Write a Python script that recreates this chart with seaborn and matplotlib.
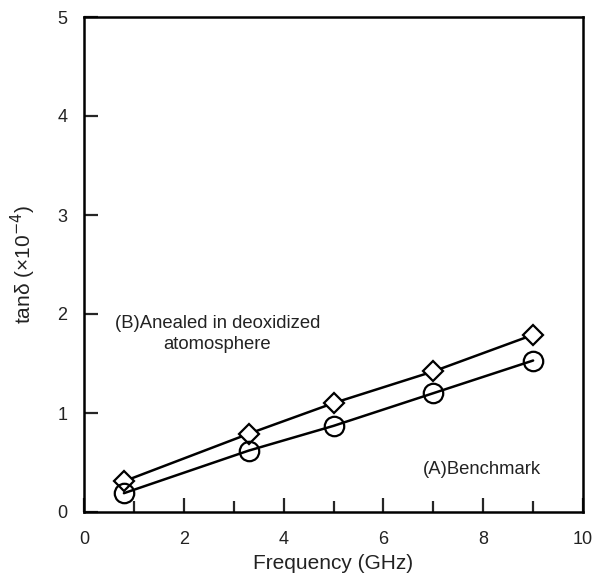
import matplotlib
matplotlib.use("Agg")
import matplotlib.pyplot as plt
from matplotlib.ticker import MultipleLocator
import seaborn as sns
import pandas as pd

freq = [0.8, 3.3, 5.0, 7.0, 9.0]
tan_b = [0.31, 0.79, 1.10, 1.42, 1.79]   # (B) annealed, diamonds
tan_a = [0.19, 0.62, 0.87, 1.20, 1.53]   # (A) benchmark, circles
x_ticks = [0, 2, 4, 6, 8, 10]
y_ticks = [0, 1, 2, 3, 4, 5]

sns.set_theme(style="ticks")
plt.rcParams['font.family'] = ['Liberation Sans', 'DejaVu Sans']

df = pd.DataFrame({
    "freq": freq * 2,
    "tan": tan_b + tan_a,
    "series": ["B"] * len(freq) + ["A"] * len(freq),
})

fig = plt.figure(figsize=(5.92, 5.76), dpi=100)
ax = fig.add_axes([84 / 592, 1 - 512 / 576, (583 - 84) / 592, (512 - 17) / 576])

sns.lineplot(data=df[df.series == "B"], x="freq", y="tan", ax=ax, color="black",
             lw=1.8, marker="D", markersize=10, markerfacecolor="white",
             markeredgecolor="black", markeredgewidth=1.6, zorder=3)
sns.lineplot(data=df[df.series == "A"], x="freq", y="tan", ax=ax, color="black",
             lw=1.8, marker="o", markersize=14, markerfacecolor="none",
             markeredgecolor="black", markeredgewidth=1.6, zorder=3)

ax.set_xlim(0, 10)
ax.set_ylim(0, 5)
ax.set_xticks(x_ticks)
ax.set_yticks(y_ticks)
ax.xaxis.set_minor_locator(MultipleLocator(1))
ax.tick_params(axis="both", which="major", direction="in", length=10, width=1.6,
               labelsize=13, labelcolor="#222222")
ax.tick_params(axis="x", which="major", pad=14)
ax.tick_params(axis="y", which="major", pad=12)
ax.tick_params(axis="x", which="minor", direction="in", length=8, width=1.6)
ax.tick_params(top=False, right=False)
for s in ax.spines.values():
    s.set_visible(True)
    s.set_linewidth(1.8)
    s.set_color("black")

ax.set_xlabel("Frequency (GHz)", fontsize=15, color="#222222", labelpad=4)
ax.set_ylabel(r"tanδ (×10$^{-4}$)", fontsize=15, color="#222222", labelpad=14)

ax.text(2.67, 1.80, "(B)Anealed in deoxidized\natomosphere", ha="center", va="center",
        fontsize=13.3, color="#222222", linespacing=1.3)
ax.text(7.98, 0.43, "(A)Benchmark", ha="center", va="center", fontsize=13.3, color="#222222")

fig.savefig("out.png", dpi=100, facecolor="white")
